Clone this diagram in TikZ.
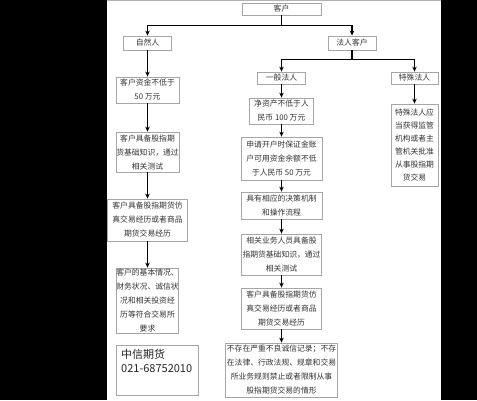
\documentclass[tikz,border=0pt]{standalone}
\usepackage{fontspec}
\setmainfont{Noto Sans CJK SC}
\usetikzlibrary{arrows.meta}

\begin{document}
\begin{tikzpicture}[x=1pt,y=-1pt,
  box/.style={draw=gray!70,line width=0.8pt,align=center,inner sep=0pt,text=black!80,
    font=\fontsize{7.8}{14}\selectfont},
  arr/.style={line width=1.6pt,-{Stealth[length=5pt,width=4.5pt]}},
  lin/.style={line width=1.6pt}]
\useasboundingbox (0,0) rectangle (477,400);
% Rahmen
\fill[black] (0,0) rectangle (477,400);
\fill[white] (107,0) rectangle (441,400);
\draw[gray!60,line width=1pt] (107,0.5) -- (441,0.5);
% oberste Ebene
\node[box,minimum width=79pt,minimum height=12pt] (kunde) at (281.5,9) {客户};
\node[box,minimum width=48pt,minimum height=14pt] (natur) at (147.5,43) {自然人};
\node[box,minimum width=48pt,minimum height=14pt] (jur) at (352,43) {法人客户};
\draw[lin] (kunde.south) -- ++(0,10) coordinate (k1);
\draw[arr] (k1) -| (natur.north);
\draw[arr] (k1) -| (jur.north);
% linke Spalte: natuerliche Person
\node[box,minimum width=63pt,minimum height=26pt] (l1) at (147.5,90) {客户资金不低于\\50 万元};
\node[box,minimum width=63pt,minimum height=40pt] (l2) at (147.5,152) {客户具备股指期\\货基础知识，通过\\相关测试};
\node[box,minimum width=80pt,minimum height=42pt] (l3) at (147.5,220) {客户具备股指期货仿\\真交易经历或者商品\\期货交易经历};
\node[box,minimum width=62pt,minimum height=65pt] (l4) at (147.5,300.5) {客户的基本情况、\\财务状况、诚信状\\况和相关投资经\\历等符合交易所\\要求};
\draw[arr] (natur) -- (l1);
\draw[arr] (l1) -- (l2);
\draw[arr] (l2) -- (l3);
\draw[arr] (l3) -- (l4);
% Kontakt
\node[draw=gray!70,line width=0.8pt,anchor=north west,minimum width=82pt,minimum height=50pt] (zx) at (116,345) {};
\node[anchor=north west,align=left,inner sep=0pt,text=black!85,font=\fontsize{11}{13.5}\selectfont] (zxt)
  at ([xshift=5pt,yshift=-4pt]zx.north west) {中信期货\\021-68752010};
% Verzweigung juristische Person
\node[box,minimum width=48pt,minimum height=12pt] (allg) at (281.5,78) {一般法人};
\node[box,minimum width=47pt,minimum height=12pt] (sonder) at (414.5,78) {特殊法人};
\draw[lin] (jur.south) -- ++(0,9) coordinate (j1);
\draw[arr] (j1) -| (allg.north);
\draw[arr] (j1) -| (sonder.north);
% mittlere Spalte
\node[box,minimum width=64pt,minimum height=26pt] (m1) at (281.5,111) {净资产不低于人\\民币 100 万元};
\node[box,minimum width=81pt,minimum height=43pt] (m2) at (281.5,158.5) {申请开户时保证金账\\户可用资金余额不低\\于人民币 50 万元};
\node[box,minimum width=81pt,minimum height=27pt] (m3) at (281.5,205.5) {具有相应的决策机制\\和操作流程};
\node[box,minimum width=80pt,minimum height=41pt] (m4) at (281.5,254.5) {相关业务人员具备股\\指期货基础知识，通过\\相关测试};
\node[box,minimum width=80pt,minimum height=41pt] (m5) at (281.5,308.5) {客户具备股指期货仿\\真交易经历或者商品\\期货交易经历};
\node[box,minimum width=112pt,minimum height=54pt] (m6) at (281.5,370) {不存在严重不良诚信记录；不存\\在法律、行政法规、规章和交易\\所业务规则禁止或者限制从事\\股指期货交易的情形};
\draw[arr] (allg) -- (m1);
\draw[arr] (m1) -- (m2);
\draw[arr] (m2) -- (m3);
\draw[arr] (m3) -- (m4);
\draw[arr] (m4) -- (m5);
\draw[arr] (m5) -- (m6);
% rechte Spalte
\node[box,minimum width=47pt,minimum height=82pt,font=\fontsize{7.8}{13}\selectfont] (r1) at (414.5,145) {特殊法人应\\当获得监管\\机构或者主\\管机关批准\\从事股指期\\货交易};
\draw[arr] (sonder) -- (r1);
\end{tikzpicture}
\end{document}
